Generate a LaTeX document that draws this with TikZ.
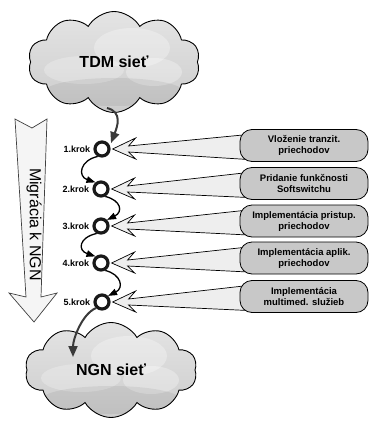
\documentclass[tikz,border=0pt]{standalone}
\usepackage{fontspec}
\setmainfont{Liberation Sans}
\usetikzlibrary{shapes.symbols,arrows.meta,calc}

\definecolor{cloudgray}{HTML}{CCCCCC}
\definecolor{cloudlight}{HTML}{E4E4E4}
\definecolor{boxgray}{HTML}{C8C8C8}
\definecolor{wiregray}{HTML}{3A3A3A}
\definecolor{callfill}{HTML}{EEEEEE}
\definecolor{migfill}{HTML}{F5F5F5}

\begin{document}
\begin{tikzpicture}[x=1pt,y=-1pt,
  netcloud/.style={cloud, cloud puffs=10, cloud puff arc=120, aspect=1.75,
    draw=black, line width=0.9pt, inner sep=0pt,
    top color=cloudlight, bottom color=cloudgray,
    font=\bfseries\fontsize{16}{18}\selectfont,
    path picture={
      \fill[white,opacity=.30] ($(path picture bounding box.center)+(18,-14)$) ellipse (38 and 20);
      \fill[white,opacity=.30] ($(path picture bounding box.center)+(40,10)$) ellipse (28 and 14);
      \fill[white,opacity=.25] ($(path picture bounding box.center)+(-30,8)$) ellipse (40 and 14);
      \fill[black,opacity=.06] ($(path picture bounding box.center)+(0,30)$) ellipse (70 and 14);
    }},
  ring/.style={circle, draw=black!90, line width=3.2pt, fill=white,
    minimum size=14pt, inner sep=0pt},
  steplabel/.style={anchor=east, inner sep=0pt, font=\bfseries\fontsize{9}{10}\selectfont},
  stagebox/.style={draw=black, line width=0.8pt, fill=boxgray, rounded corners=12pt,
    minimum width=128pt, minimum height=32pt, align=center, inner sep=1pt,
    font=\bfseries\fontsize{9.5}{11}\selectfont},
  callout/.style={draw=black, line width=0.7pt, fill=callfill, line join=miter},
  wire/.style={black, line width=1.3pt, -{Triangle[length=9pt,width=6.5pt]}},
  netwire/.style={wiregray, line width=2pt, -{Triangle[length=11pt,width=9pt]}},
  migarrow/.style={draw=black!75, line width=0.7pt, fill=migfill, line join=miter}
]
\useasboundingbox (0,0) rectangle (370,423);

% networks at start and end of the migration
\node[netcloud, minimum width=172pt, minimum height=101pt] (tdm) at (114,62) {TDM sieť};
\node[netcloud, minimum width=172pt, minimum height=95pt] (ngn) at (111,370) {NGN sieť};

% migration direction arrow
\draw[migarrow] (15,119) -- (32,128) -- (47,119) -- (41,297) -- (57,293)
  -- (34,322) -- (9,293) -- (26,297) -- cycle;
\node[rotate=-90, font=\fontsize{16}{18}\selectfont, inner sep=0pt] (mig) at (34,224.5) {Migrácia k NGN};

% migration steps
\node[ring] (s1) at (102,149) {};
\node[ring] (s2) at (101,189) {};
\node[ring] (s3) at (101,226) {};
\node[ring] (s4) at (101,263) {};
\node[ring] (s5) at (102,302) {};

\foreach \i in {1,...,5}
  \node[steplabel] (k\i) at ($(s\i.west)+(-3,0)$) {\i.krok};

% anchor points of the callout pointers
\coordinate (b1c) at (304,145.5);
\coordinate (b2c) at (304,183.5);
\coordinate (b3c) at (304,221);
\coordinate (b4c) at (304,258);
\coordinate (b5c) at (304,296.5);
\foreach \i in {1,...,5} {
  \coordinate (t\i) at ($(s\i.east)+(2,0)$);
  \coordinate (e\i) at ($(b\i c)+(-56,0)$);
}

% callout pointers from each description to its step
\foreach \i in {1,...,5}
  \draw[callout] (t\i) -- ($(t\i)+(23,-11)$) -- ($(t\i)+(16,-3)$)
    -- ($(e\i)+(0,-11)$) -- ($(e\i)+(0,14)$) -- ($(t\i)+(16,3)$)
    -- ($(t\i)+(23,10)$) -- cycle;

% stage descriptions, drawn over the pointer ends
\node[stagebox] (b1) at (b1c) {Vloženie tranzit.\\priechodov};
\node[stagebox] (b2) at (b2c) {Pridanie funkčnosti\\Softswitchu};
\node[stagebox] (b3) at (b3c) {Implementácia pristup.\\priechodov};
\node[stagebox] (b4) at (b4c) {Implementácia aplik.\\priechodov};
\node[stagebox] (b5) at (b5c) {Implementácia\\multimed. služieb};

% wavy links between steps
\draw[wire] (s1.-120) .. controls +(-18,4) and +(-18,-6) .. (s2.130);
\draw[wire] (s2.-60) .. controls +(16,4) and +(16,-8) .. (s3.45);
\draw[wire] (s3.-120) .. controls +(-18,4) and +(-18,-6) .. (s4.130);
\draw[wire] (s4.-60) .. controls +(16,4) and +(16,-8) .. (s5.45);

% entry from the TDM network and exit into the NGN
\coordinate (tdmout) at (107,108);
\coordinate (ngnin) at (73,357);
\draw[netwire] (tdmout) .. controls +(16,4) and +(6,-16) .. ($(s1.35)+(2,-1)$);
\draw[netwire] (s5.-135) .. controls +(-14,6) and +(0,-18) .. (ngnin);
\end{tikzpicture}
\end{document}
